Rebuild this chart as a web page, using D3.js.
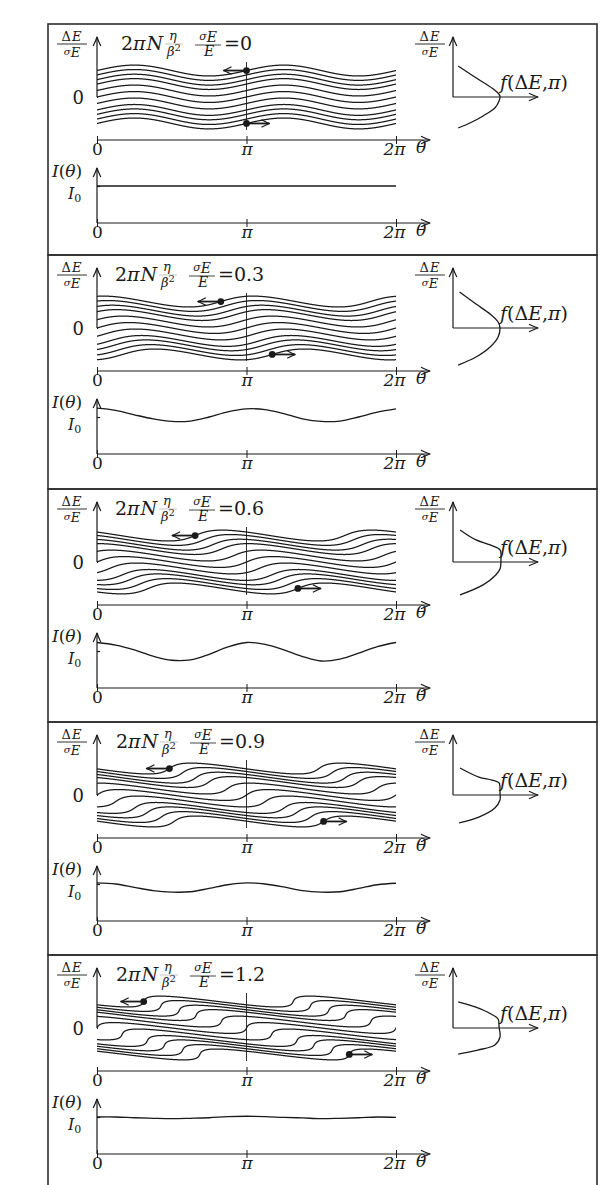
<!DOCTYPE html>
<html>
<head>
<meta charset="utf-8">
<script src="https://cdn.jsdelivr.net/npm/d3@7"></script>
<style>
  html, body { margin: 0; padding: 0; background: #fff; }
  svg { display: block; }
  text { font-family: "DejaVu Serif", "Liberation Serif", serif; fill: #1a1a1a; }
  .it { font-style: italic; }
</style>
</head>
<body>
<svg id="fig" width="604" height="1185"></svg>
<script>
const TWO_PI = 2 * Math.PI;

// Shear parameter 2πN η/β² σE/E of each panel, and its printed form
const shearValues = [0, 0.3, 0.6, 0.9, 1.2];
const shearLabels = ["0", "0.3", "0.6", "0.9", "1.2"];

// Unperturbed energy of every drawn trajectory, ΔE/σE
const trajectoryLevels = [1.8, 1.5, 1.18, 0.88, 0.44, 0, -0.44, -0.88, -1.18, -1.5, -1.8];

// Initial sinusoidal energy modulation: amplitude (ΔE/σE) and harmonic
const modulationAmplitude = 0.37;
const modulationHarmonic = 2;

// θ axis ticks
const thetaTickValues = [0, Math.PI, TWO_PI];
const thetaTickLabels = ["0", "π", "2π"];

// Line current I(θ)/I0 sampled every π/8 from 0 to 2π
const currentPanel1 = [1, 1, 1, 1, 1, 1, 1, 1, 1, 1, 1, 1, 1, 1, 1, 1, 1];
const currentPanel2 = [1.24, 1.18, 1.06, 0.95, 0.88, 0.89, 1.0, 1.14, 1.22, 1.20, 1.09, 0.95, 0.88, 0.89, 1.0, 1.13, 1.22];
const currentPanel3 = [1.23, 1.16, 1.03, 0.86, 0.75, 0.76, 0.91, 1.11, 1.23, 1.18, 1.03, 0.85, 0.73, 0.78, 0.94, 1.12, 1.23];
const currentPanel4 = [1.03, 1.0, 0.91, 0.82, 0.78, 0.79, 0.88, 0.98, 1.03, 1.0, 0.92, 0.82, 0.78, 0.79, 0.88, 0.98, 1.02];
const currentPanel5 = [1.0, 1.0, 0.98, 0.965, 0.955, 0.965, 0.98, 1.01, 1.02, 1.01, 0.99, 0.975, 0.955, 0.965, 0.98, 1.0, 0.99];
const currentProfiles = [currentPanel1, currentPanel2, currentPanel3, currentPanel4, currentPanel5];

// Energy distribution at θ = π: [f/fmax, ΔE/σE]
const distPanel1 = [[0.11, 2.11], [0.43, 1.43], [0.70, 0.88], [0.91, 0.41], [1.0, 0.07], [0.98, -0.27], [0.89, -0.75], [0.64, -1.29], [0.36, -1.77], [0.11, -2.11]];
const distPanel2 = [[0.14, 2.45], [0.49, 1.63], [0.79, 0.95], [0.96, 0.41], [1.0, 0], [0.96, -0.61], [0.79, -1.29], [0.49, -1.97], [0.11, -2.52]];
const distPanel3 = [[0.15, 2.18], [0.49, 1.5], [0.79, 1.16], [1.0, 0.82], [1.02, 0.14], [1.0, -0.48], [0.91, -0.88], [0.64, -1.56], [0.15, -2.24]];
const distPanel4 = [[0.15, 1.84], [0.55, 1.22], [0.83, 1.02], [0.98, 0.82], [1.0, 0.14], [1.0, -0.34], [0.89, -0.88], [0.55, -1.5], [0.13, -1.9]];
const distPanel5 = [[0.11, 1.77], [0.47, 1.43], [0.81, 0.95], [0.96, 0.61], [0.98, 0.07], [1.0, -0.61], [0.89, -1.16], [0.53, -1.5], [0.11, -1.77]];
const distributionProfiles = [distPanel1, distPanel2, distPanel3, distPanel4, distPanel5];

// ---- layout ----
const ink = "#1a1a1a";
const panelTops = [24, 255, 489, 722, 955];
const panelBottoms = [255, 489, 722, 955, 1200];
const titleX = [121, 115, 115, 116, 116];
const boxLeft = 48, boxRight = 597;
const plotLeft = 97, plotRight = 396, axisEnd = 430;
const sigmaPx = 14.7;
const distOriginX = 453, distEndX = 538, distPeakX = 500;

const svg = d3.select("#fig");
svg.append("rect").attr("width", 604).attr("height", 1185).attr("fill", "#fff");
const defs = svg.append("defs");

const x = d3.scaleLinear().domain([0, TWO_PI]).range([plotLeft, plotRight]);
const thetaSamples = d3.range(17).map(k => k * Math.PI / 8);

function arrowHead(g, tx, ty, dx, dy, size = 9, w = 3.8) {
  const px = -dy, py = dx;
  const p = d3.path();
  p.moveTo(tx - dx * size + px * w, ty - dy * size + py * w);
  p.quadraticCurveTo(tx - dx * size * 0.35 + px * w * 0.25, ty - dy * size * 0.35 + py * w * 0.25, tx, ty);
  p.quadraticCurveTo(tx - dx * size * 0.35 - px * w * 0.25, ty - dy * size * 0.35 - py * w * 0.25,
                     tx - dx * size - px * w, ty - dy * size - py * w);
  g.append("path").attr("d", p.toString()).attr("fill", "none")
    .attr("stroke", ink).attr("stroke-width", 1.2).attr("stroke-linejoin", "round");
}
function arrow(g, x1, y1, x2, y2, width = 1.2, size = 9) {
  g.append("line").attr("x1", x1).attr("y1", y1).attr("x2", x2).attr("y2", y2)
    .attr("stroke", ink).attr("stroke-width", width);
  const L = Math.hypot(x2 - x1, y2 - y1);
  arrowHead(g, x2, y2, (x2 - x1) / L, (y2 - y1) / L, size);
}

// Trajectory of particles that start on level c with the energy modulation,
// after the drift θ → θ0 − s·ΔE/σE
function trajectory(c, s) {
  const pts = [];
  for (let t0 = -1.5 * Math.PI; t0 <= 3.5 * Math.PI; t0 += 0.004) {
    const u = c + modulationAmplitude * Math.sin(modulationHarmonic * t0);
    pts.push([t0 - s * u, u]);
  }
  return pts;
}

function energyLabel(g, cx, T) {
  const num = g.append("text").attr("x", cx).attr("y", T + 17).attr("text-anchor", "middle")
    .attr("font-size", 13).attr("letter-spacing", 1);
  num.append("tspan").text("Δ");
  num.append("tspan").attr("class", "it").text("E");
  g.append("line").attr("x1", cx - 15).attr("x2", cx + 15).attr("y1", T + 20).attr("y2", T + 20)
    .attr("stroke", ink).attr("stroke-width", 0.9);
  const den = g.append("text").attr("x", cx).attr("y", T + 32).attr("text-anchor", "middle");
  den.append("tspan").attr("class", "it").attr("font-size", 10).attr("dy", -1).text("σ");
  den.append("tspan").attr("class", "it").attr("font-size", 13).attr("dy", 2).text("E");
}

shearValues.forEach((s, i) => {
  const T = panelTops[i];
  const g = svg.append("g");
  const y0 = T + 73;
  const axisY = T + 116;
  const lowAxisY = T + 199;
  const yE = d3.scaleLinear().domain([-1, 1]).range([y0 + sigmaPx, y0 - sigmaPx]);
  const yI = d3.scaleLinear().domain([0, 1]).range([lowAxisY, T + 162]);

  // frame
  g.append("rect").attr("x", boxLeft).attr("y", T).attr("width", boxRight - boxLeft)
    .attr("height", panelBottoms[i] - T).attr("fill", "none")
    .attr("stroke", "#2e2e2e").attr("stroke-width", 1.6);

  // title: 2πN η/β² σE/E = value
  const tx = titleX[i];
  const t1 = g.append("text").attr("x", tx).attr("y", T + 26).attr("font-size", 19);
  t1.append("tspan").text("2");
  t1.append("tspan").attr("class", "it").text("π");
  t1.append("tspan").attr("class", "it").attr("dx", 1).text("N");
  g.append("text").attr("x", tx + 52).attr("y", T + 16).attr("text-anchor", "middle")
    .attr("font-size", 13).attr("class", "it").text("η");
  g.append("line").attr("x1", tx + 44).attr("x2", tx + 62).attr("y1", T + 20).attr("y2", T + 20)
    .attr("stroke", ink).attr("stroke-width", 0.5).attr("stroke-opacity", 0.5);
  const beta = g.append("text").attr("x", tx + 53).attr("y", T + 32).attr("text-anchor", "middle").attr("font-size", 13);
  beta.append("tspan").attr("class", "it").text("β");
  beta.append("tspan").attr("font-size", 10).attr("dy", -5).text("2");
  const sE = g.append("text").attr("x", tx + 87).attr("y", T + 18).attr("text-anchor", "middle");
  sE.append("tspan").attr("class", "it").attr("font-size", 11).attr("dy", -2).text("σ");
  sE.append("tspan").attr("class", "it").attr("font-size", 14).attr("dy", 2).text("E");
  g.append("line").attr("x1", tx + 74).attr("x2", tx + 100).attr("y1", T + 21).attr("y2", T + 21)
    .attr("stroke", ink).attr("stroke-width", 0.8);
  g.append("text").attr("x", tx + 88).attr("y", T + 32).attr("text-anchor", "middle")
    .attr("font-size", 14).attr("class", "it").text("E");
  g.append("text").attr("x", tx + 103).attr("y", T + 26).attr("font-size", 19)
    .text("=" + shearLabels[i]);

  // phase-space axes
  energyLabel(g, 72, T);
  arrow(g, plotLeft, y0, plotLeft, T + 13);
  const eAxis = d3.axisLeft(yE).tickValues([0]).tickFormat(() => "0").tickSizeInner(6).tickSizeOuter(0).tickPadding(7);
  const ea = g.append("g").attr("transform", `translate(${plotLeft},0)`).call(eAxis);
  ea.select(".domain").remove();
  ea.selectAll(".tick line").attr("stroke", ink).attr("stroke-width", 1.2).attr("x2", 1);
  ea.selectAll(".tick text").attr("font-size", 18).attr("font-family", null).attr("fill", ink).attr("dy", "0.36em");

  function thetaAxis(yPos) {
    arrow(g, plotLeft, yPos, axisEnd, yPos);
    const ax = d3.axisBottom(x).tickValues(thetaTickValues)
      .tickFormat((d, j) => thetaTickLabels[j]).tickSizeInner(4).tickSizeOuter(0);
    const a = g.append("g").attr("transform", `translate(0,${yPos})`).call(ax);
    a.select(".domain").remove();
    a.selectAll(".tick line").attr("y1", -4).attr("y2", 4).attr("stroke", ink).attr("stroke-width", 1);
    a.selectAll(".tick text").attr("font-size", 17).attr("font-family", null).attr("fill", ink)
      .attr("y", 15).attr("dy", null).attr("class", (d, j) => j === 0 ? null : "it")
      .attr("dx", (d, j) => j === 2 ? -2 : 0);
    g.append("text").attr("x", 421).attr("y", yPos + 13).attr("text-anchor", "middle")
      .attr("font-size", 17).attr("class", "it").text("θ");
  }
  thetaAxis(axisY);

  // trajectories
  const clipId = "clip" + i;
  defs.append("clipPath").attr("id", clipId).append("rect")
    .attr("x", plotLeft).attr("y", T + 2).attr("width", plotRight - plotLeft).attr("height", axisY - T - 6);
  const tLine = d3.line().x(d => x(d[0])).y(d => yE(d[1]));
  const tg = g.append("g").attr("clip-path", `url(#${clipId})`);
  trajectoryLevels.forEach(c => {
    tg.append("path").attr("d", tLine(trajectory(c, s))).attr("fill", "none")
      .attr("stroke", ink).attr("stroke-width", 1.25);
  });

  // cut at θ = π
  g.append("line").attr("x1", x(Math.PI)).attr("x2", x(Math.PI)).attr("y1", T + 38).attr("y2", T + 106)
    .attr("stroke", ink).attr("stroke-width", 0.9);

  // tagged particles drifting in opposite directions
  const cTop = trajectoryLevels[0], cBot = trajectoryLevels[trajectoryLevels.length - 1];
  const xt = x(Math.PI - s * cTop), yt = yE(cTop);
  const xb = x(Math.PI - s * cBot), yb = yE(cBot);
  arrow(g, xt - 1, yt, xt - 23, yt, 1.8, 8);
  g.append("circle").attr("cx", xt).attr("cy", yt).attr("r", 3.4).attr("fill", ink);
  arrow(g, xb + 1, yb, xb + 23, yb, 1.8, 8);
  g.append("circle").attr("cx", xb).attr("cy", yb).attr("r", 3.4).attr("fill", ink);

  // current profile
  const iLab = g.append("text").attr("x", 52).attr("y", T + 153).attr("font-size", 17);
  iLab.append("tspan").attr("class", "it").text("I");
  iLab.append("tspan").text("(");
  iLab.append("tspan").attr("class", "it").text("θ");
  iLab.append("tspan").text(")");
  const i0 = g.append("text").attr("x", 68).attr("y", T + 175).attr("font-size", 16);
  i0.append("tspan").attr("class", "it").text("I");
  i0.append("tspan").attr("font-size", 11).attr("dy", 3).text("0");
  arrow(g, plotLeft, lowAxisY, plotLeft, T + 144);
  const iAxis = d3.axisLeft(yI).tickValues([1]).tickFormat("").tickSizeInner(4).tickSizeOuter(0);
  const ia = g.append("g").attr("transform", `translate(${plotLeft},0)`).call(iAxis);
  ia.select(".domain").remove();
  ia.selectAll(".tick line").attr("stroke", ink).attr("stroke-width", 1.2).attr("x2", 3);
  thetaAxis(lowAxisY);
  const iLine = d3.line().x((d, k) => x(thetaSamples[k])).y(d => yI(d)).curve(d3.curveCatmullRom.alpha(0.5));
  g.append("path").attr("d", iLine(currentProfiles[i])).attr("fill", "none")
    .attr("stroke", ink).attr("stroke-width", 1.3);

  // energy distribution at θ = π
  const fx = d3.scaleLinear().domain([0, 1]).range([distOriginX, distPeakX]);
  energyLabel(g, 430, T);
  arrow(g, distOriginX, y0, distOriginX, T + 13);
  arrow(g, distOriginX, y0, distEndX, y0);
  const fLine = d3.line().x(d => fx(d[0])).y(d => yE(d[1])).curve(d3.curveCatmullRom.alpha(0.5));
  g.append("path").attr("d", fLine(distributionProfiles[i])).attr("fill", "none")
    .attr("stroke", ink).attr("stroke-width", 1.3);
  const fl = g.append("text").attr("x", 500).attr("y", T + 65).attr("font-size", 19);
  fl.append("tspan").attr("class", "it").text("f");
  fl.append("tspan").text("(Δ");
  fl.append("tspan").attr("class", "it").text("E");
  fl.append("tspan").text(",");
  fl.append("tspan").attr("class", "it").text("π");
  fl.append("tspan").text(")");
});
</script>
</body>
</html>
